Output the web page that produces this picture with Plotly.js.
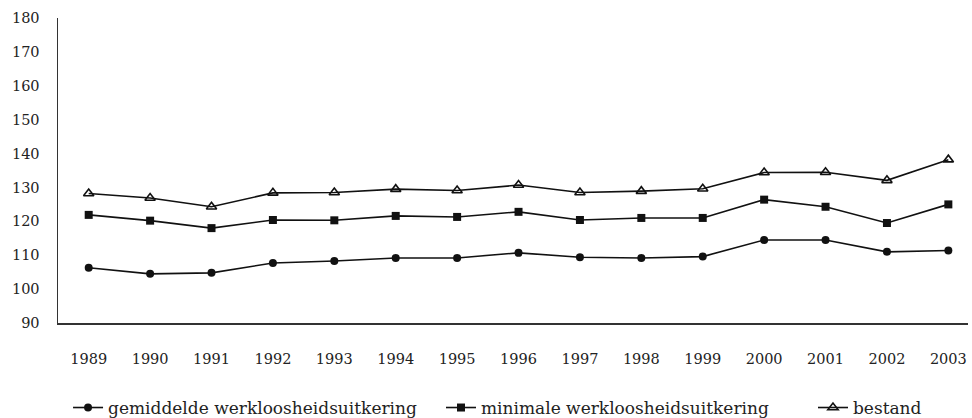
<!DOCTYPE html>
<html>
<head>
<meta charset="utf-8">
<script src="https://cdn.plot.ly/plotly-3.0.1.min.js"></script>
<style>html,body{margin:0;padding:0;background:#fff;}#chart{width:972px;height:418px;}</style>
</head>
<body>
<div id="chart"></div>
<script>
var years = ['1989','1990','1991','1992','1993','1994','1995','1996','1997','1998','1999','2000','2001','2002','2003'];
var gemiddelde = [106.3, 104.5, 104.8, 107.7, 108.3, 109.2, 109.2, 110.7, 109.4, 109.2, 109.6, 114.5, 114.5, 111.0, 111.4];
var minimale = [121.9, 120.2, 118.0, 120.4, 120.3, 121.6, 121.3, 122.8, 120.4, 121.0, 121.0, 126.4, 124.3, 119.5, 125.0];
var bestand = [128.2, 126.9, 124.3, 128.4, 128.5, 129.5, 129.1, 130.7, 128.5, 128.9, 129.6, 134.4, 134.5, 132.1, 138.2];
var yTicks = [90, 100, 110, 120, 130, 140, 150, 160, 170, 180];

var fontFam = '"DejaVu Serif", "Liberation Serif", serif';
var traces = [
  {x: years, y: gemiddelde, name: 'gemiddelde werkloosheidsuitkering', type: 'scatter', mode: 'lines+markers', legend: 'legend',
   line: {color: '#111', width: 1.6}, marker: {symbol: 'circle', size: 8, color: '#111'}},
  {x: years, y: minimale, name: 'minimale werkloosheidsuitkering', type: 'scatter', mode: 'lines+markers', legend: 'legend2',
   line: {color: '#111', width: 1.6}, marker: {symbol: 'square', size: 8, color: '#111'}},
  {x: years, y: bestand, name: 'bestand', type: 'scatter', mode: 'lines+markers', legend: 'legend3',
   line: {color: '#111', width: 1.6}, marker: {symbol: 'triangle-up-open', size: 9, color: '#111', line: {width: 1.6, color: '#111'}}}
];

function leg(x) {
  return {orientation: 'h', xref: 'container', yref: 'container', x: x, xanchor: 'left', y: 0.024, yanchor: 'middle',
          font: {family: fontFam, size: 17, color: '#222'}};
}

var layout = {
  width: 972, height: 418,
  margin: {l: 58, r: 4, t: 18, b: 95},
  paper_bgcolor: '#fff', plot_bgcolor: '#fff',
  font: {family: fontFam, size: 14, color: '#222'},
  showlegend: true,
  legend: leg(0.07),
  legend2: leg(0.4537),
  legend3: leg(0.8364),
  xaxis: {type: 'category', range: [-0.5, 14.32], showgrid: false, zeroline: false,
          showline: true, linecolor: '#333', linewidth: 1.5, ticks: '', ticklabelstandoff: 22,
          tickfont: {family: fontFam, size: 14.5, color: '#222'}},
  yaxis: {range: [90, 180], tickvals: yTicks, showgrid: false, zeroline: false,
          showline: true, linecolor: '#333', linewidth: 1.5, ticks: '', ticklabelstandoff: 14,
          tickfont: {family: fontFam, size: 14.5, color: '#222'}}
};

Plotly.newPlot('chart', traces, layout, {displayModeBar: false, staticPlot: true});
</script>
</body>
</html>
